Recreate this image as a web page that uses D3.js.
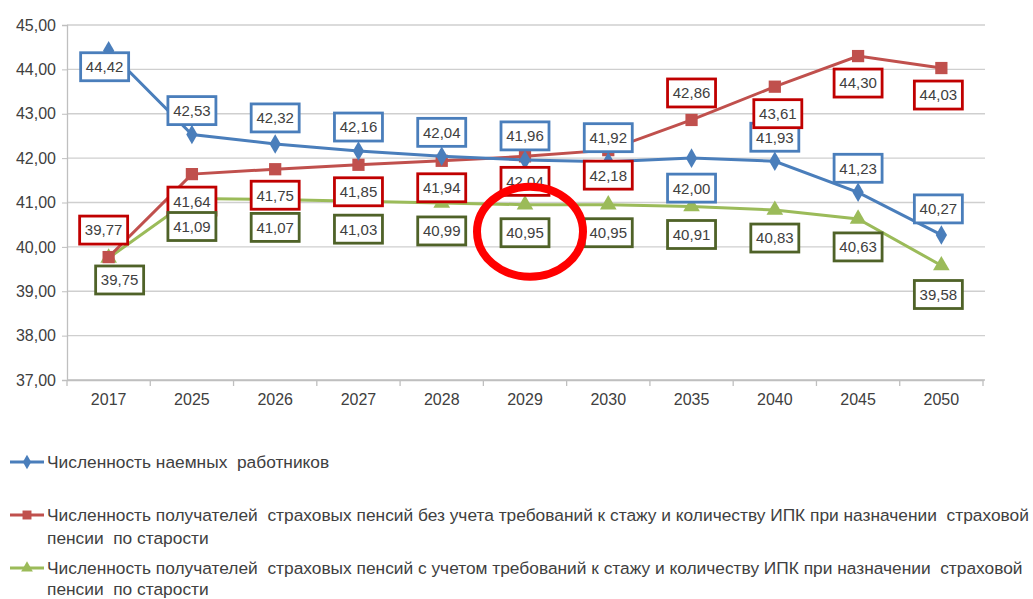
<!DOCTYPE html>
<html><head><meta charset="utf-8">
<script src="https://cdn.jsdelivr.net/npm/d3@7"></script>
<style>
html,body{margin:0;padding:0;background:#fff;}
svg{display:block;font-family:"Liberation Sans",Arial,sans-serif;}
text.lt{white-space:pre;}
</style></head>
<body>
<svg id="c" width="1033" height="599"></svg>
<script>
const categories = ["2017","2025","2026","2027","2028","2029","2030","2035","2040","2045","2050"];
const workers   = [44.42,42.53,42.32,42.16,42.04,41.96,41.92,42.00,41.93,41.23,40.27];
const pensNoReq = [39.77,41.64,41.75,41.85,41.94,42.04,42.18,42.86,43.61,44.30,44.03];
const pensReq   = [39.75,41.09,41.07,41.03,40.99,40.95,40.95,40.91,40.83,40.63,39.58];
const yTicks    = [37,38,39,40,41,42,43,44,45];
const seriesNames = [
  ["Численность наемных  работников"],
  ["Численность получателей  страховых пенсий без учета требований к стажу и количеству ИПК при назначении  страховой","пенсии  по старости"],
  ["Численность получателей  страховых пенсий с учетом требований к стажу и количеству ИПК при назначении  страховой","пенсии  по старости"]
];
const highlightCategory = "2029";

// label placement (style): [dx, dy] relative to point
const placeBlue  = [[-4,16],[0,-24],[0,-26],[0,-24],[0,-24],[0,-24],[0,-24],[0,30],[0,-24],[0,-24],[-3,-26]];
const placeRed   = [[-5,-27],[0,27],[0,26],[0,27],[0,27],[0,25],[0,25],[0,-27],[3,27],[0,27],[-3,27]];
const placeGreen = [[11,22],[0,28],[0,28],[0,28],[0,28],[0,28],[0,28],[0,28],[0,28],[0,28],[-3,29]];

const svg = d3.select("#c");
const x = d3.scaleBand().domain(categories).range([67,983]);
const y = d3.scaleLinear().domain([37,45]).range([380,25]);
const cx = c => x(c) + x.bandwidth()/2;
const textCol = "#404040";

// grid
svg.append("g").selectAll("line").data(yTicks).join("line")
  .attr("x1",67).attr("x2",985).attr("y1",d=>y(d)).attr("y2",d=>y(d))
  .attr("stroke",(d)=>d===37?"#bfbfbf":"#cfcfcf").attr("stroke-width",1.3);

// y axis
const yAxis = d3.axisLeft(y).tickValues(yTicks).tickSize(5).tickPadding(8)
  .tickFormat(d=>d3.format(".2f")(d).replace(".",","));
const gy = svg.append("g").attr("transform","translate(67,0)").call(yAxis);
gy.select(".domain").attr("stroke","#bfbfbf").attr("stroke-width",1.3);
gy.selectAll(".tick line").attr("stroke","#bfbfbf");
gy.selectAll("text").attr("font-size",16).attr("fill",textCol).attr("font-family","Liberation Sans, Arial, sans-serif").attr("x",-11);

// x axis
const xAxis = d3.axisBottom(x).tickSize(0).tickPadding(14);
const gx = svg.append("g").attr("transform","translate(0,380)").call(xAxis);
gx.select(".domain").attr("stroke","#bfbfbf").attr("stroke-width",1.3);
gx.selectAll("text").attr("font-size",16).attr("fill",textCol).attr("font-family","Liberation Sans, Arial, sans-serif");
// boundary ticks
svg.append("g").selectAll("line").data(categories.concat(["_end"])).join("line")
  .attr("x1",(d,i)=>67+i*x.step()).attr("x2",(d,i)=>67+i*x.step())
  .attr("y1",380).attr("y2",386).attr("stroke","#bfbfbf").attr("stroke-width",1.3);

const series = [
  {vals:workers,   line:"#4a7ebb", box:"#4a7ebb", marker:"diamond", place:placeBlue},
  {vals:pensNoReq, line:"#c0504d", box:"#c00000", marker:"square",  place:placeRed},
  {vals:pensReq,   line:"#9bbb59", box:"#4f6228", marker:"triangle",place:placeGreen}
];
const symType = {diamond:d3.symbolDiamond, square:d3.symbolSquare, triangle:d3.symbolTriangle};
const markerPath = {
  diamond: d3.symbol(d3.symbolDiamond, 110)(),
  square: d3.symbol(d3.symbolSquare, 150)(),
  triangle: d3.symbol(d3.symbolTriangle, 120)()
};

const lineGen = d3.line().x((d,i)=>cx(categories[i])).y(d=>y(d));
// lines and markers
[2,1,0].forEach(k=>{
  const s = series[k];
  const g = svg.append("g");
  g.append("path").attr("d",lineGen(s.vals)).attr("fill","none")
    .attr("stroke",s.line).attr("stroke-width",3);
  g.selectAll("path.m").data(s.vals).join("path").attr("class","m")
    .attr("d",markerPath[s.marker])
    .attr("transform",(d,i)=>`translate(${cx(categories[i])},${y(d)})`)
    .attr("fill",s.line);
});

// labels
const fmt = v => d3.format(".2f")(v).replace(".",",");
[0,1,2].forEach(k=>{
  const s = series[k];
  const g = svg.append("g");
  const lab = g.selectAll("g").data(s.vals).join("g")
    .attr("transform",(d,i)=>`translate(${cx(categories[i])+s.place[i][0]},${y(d)+s.place[i][1]})`);
  lab.append("rect").attr("x",-24).attr("y",-14).attr("width",48).attr("height",28)
    .attr("fill","#fff").attr("stroke",s.box).attr("stroke-width",2.8);
  lab.append("text").attr("text-anchor","middle").attr("dy","0.36em")
    .attr("font-size",15).attr("fill",textCol).text(d=>fmt(d));
});

// highlight ellipse
const hi = categories.indexOf(highlightCategory);
svg.append("ellipse").attr("cx",cx(categories[hi])+5).attr("cy",y(pensReq[hi])+27)
  .attr("rx",53).attr("ry",45).attr("fill","none").attr("stroke","#ff0000").attr("stroke-width",8);

// legend
const legY = [[462],[515,538],[568,589]];
const lg = svg.append("g");
series.forEach((s,k)=>{
  const yy = legY[k][0];
  lg.append("line").attr("x1",10).attr("x2",44).attr("y1",yy).attr("y2",yy)
    .attr("stroke",s.line).attr("stroke-width",3);
  lg.append("path").attr("d",d3.symbol(symType[s.marker], s.marker==="square"?80:60)())
    .attr("transform",`translate(27,${yy})`).attr("fill",s.line);
  seriesNames[k].forEach((t,j)=>{
    lg.append("text").attr("class","lt").attr("x",47).attr("y",legY[k][j]).attr("dy","0.36em")
      .attr("font-size",16).attr("fill",textCol).text(t);
  });
});
// fit longest legend line to ~983px
const longest = lg.selectAll("text.lt").nodes()[1];
const w = longest.getComputedTextLength();
const fs = Math.min(17.5, 16*983/w);
lg.selectAll("text.lt").attr("font-size",fs);
</script>
</body></html>
